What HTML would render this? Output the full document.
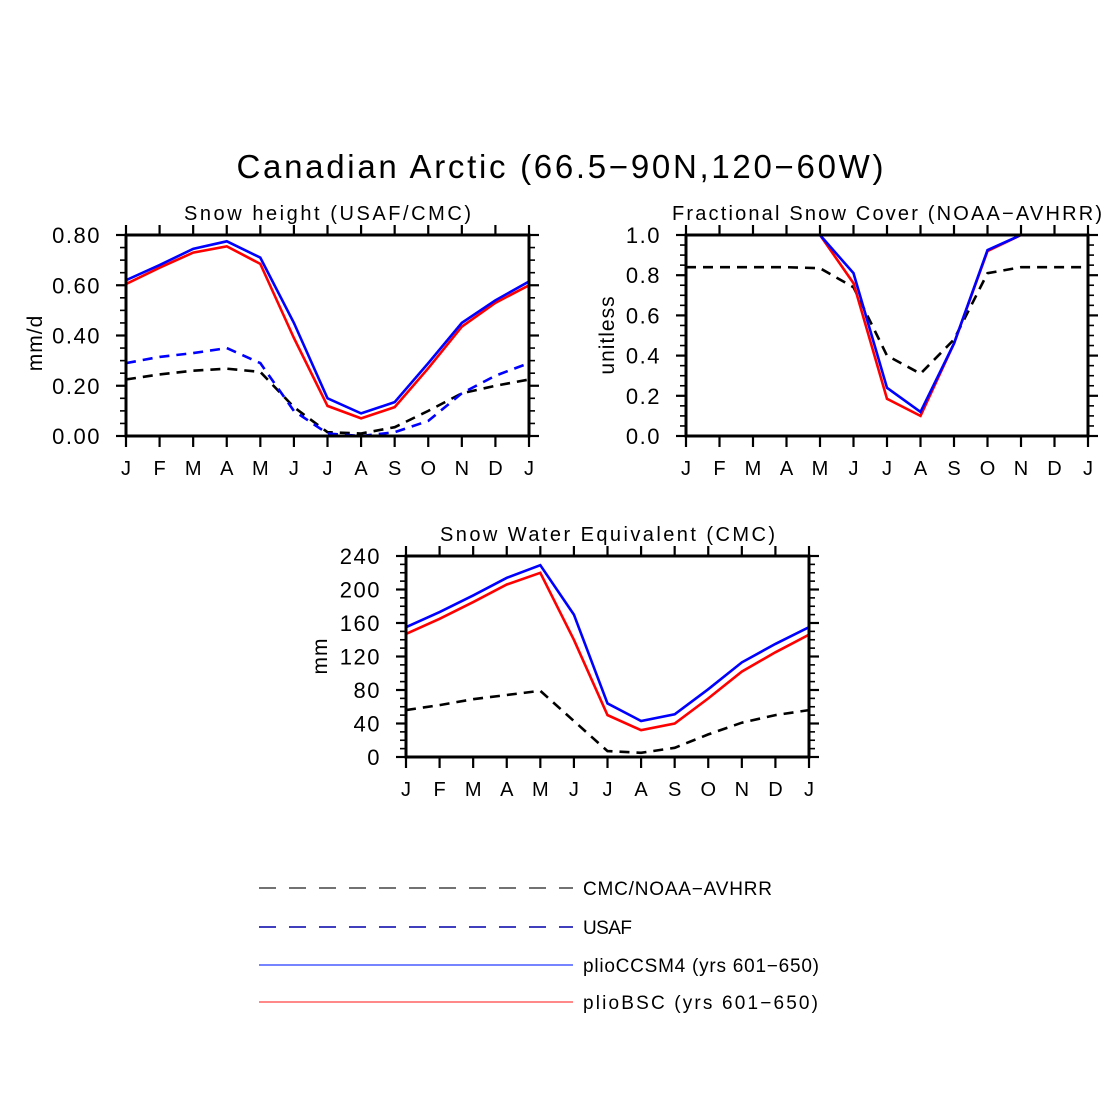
<!DOCTYPE html>
<html><head><meta charset="utf-8"><style>
html,body{margin:0;padding:0;background:#fff}
svg{display:block}
text{font-family:"Liberation Sans",sans-serif;fill:#000}
</style></head><body>
<svg id="fig" width="1120" height="1120" viewBox="0 0 1120 1120">
<text x="560" y="178" font-size="33" text-anchor="middle" textLength="647" lengthAdjust="spacing">Canadian Arctic (66.5−90N,120−60W)</text>
</svg>
<script>
const months = ["J","F","M","A","M","J","J","A","S","O","N","D","J"];
// Panel 1: Snow height
const p1CCSM4 = [0.62,0.68,0.745,0.775,0.71,0.45,0.15,0.09,0.135,0.29,0.45,0.54,0.615];
const p1BSC = [0.605,0.67,0.73,0.755,0.685,0.39,0.12,0.07,0.115,0.27,0.435,0.53,0.60];
const p1USAF = [0.29,0.315,0.33,0.35,0.29,0.10,0.01,0.0,0.015,0.06,0.17,0.24,0.29];
const p1CMC = [0.225,0.245,0.26,0.268,0.255,0.115,0.015,0.01,0.035,0.10,0.17,0.20,0.225];
const p1Ticks = ["0.00","0.20","0.40","0.60","0.80"];
// Panel 2: Fractional snow cover
const p2CCSM4 = [1,1,1,1,1,0.81,0.24,0.12,0.46,0.925,1,1,1];
const p2BSC = [1,1,1,1,1,0.76,0.185,0.10,0.46,0.92,1,1,1];
const p2NOAA = [0.84,0.84,0.84,0.84,0.835,0.74,0.40,0.31,0.48,0.81,0.84,0.84,0.84];
const p2Ticks = ["0.0","0.2","0.4","0.6","0.8","1.0"];
// Panel 3: SWE
const p3CCSM4 = [155,173,193,214,229,170,64,43,51,81,113,135,155];
const p3BSC = [147,165,185,206,220,140,50,32,40,70,102,125,146];
const p3CMC = [56,62,69,74,79,43,7,5,11,27,41,50,56];
const p3Ticks = ["0","40","80","120","160","200","240"];

const NS="http://www.w3.org/2000/svg";
const svg=document.getElementById('fig');
function mk(tag,attrs,parent){const e=document.createElementNS(NS,tag);for(const k in attrs)e.setAttribute(k,attrs[k]);(parent||svg).appendChild(e);return e;}

function panel(cfg){
  const g=mk('g',{});
  
  
  const {x0,x1,y0,y1,ymin,ymax}=cfg;
  const sx=i=>x0+(x1-x0)*i/12;
  const sy=v=>y1-(v-ymin)/(ymax-ymin)*(y1-y0);
  const cid='clip'+cfg.name;
  const cp=mk('clipPath',{id:cid},g);mk('rect',{x:x0,y:y0,width:x1-x0,height:y1-y0},cp);
  cfg.series.forEach(s=>{
    const pts=s.data.map((v,i)=>sx(i).toFixed(1)+','+sy(v).toFixed(1)).join(' ');
    const pl=mk('polyline',{points:pts,fill:'none',stroke:s.color,'stroke-width':2.6,'stroke-dasharray':s.dash||'none','clip-path':'url(#'+cid+')'},g);
    
    
  });
  const fr=mk('rect',{x:x0,y:y0,width:x1-x0,height:y1-y0,fill:'none',stroke:'#000','stroke-width':3},g);
  
  
  months.forEach((m,i)=>{
    const x=sx(i);
    mk('line',{x1:x,x2:x,y1:y1,y2:y1+11,stroke:'#000','stroke-width':2.2},g);
    mk('line',{x1:x,x2:x,y1:y0,y2:y0-10,stroke:'#000','stroke-width':2.2},g);
    const t=mk('text',{x:x,y:y1+39,'font-size':20,'text-anchor':'middle'},g);
    t.textContent=m;
    
    
  });
  const n=cfg.ticks.length-1;
  cfg.ticks.forEach((lab,i)=>{
    const y=y1-(y1-y0)*i/n;
    mk('line',{x1:x0-10,x2:x0,y1:y,y2:y,stroke:'#000','stroke-width':2.2},g);
    mk('line',{x1:x1,x2:x1+10,y1:y,y2:y,stroke:'#000','stroke-width':2.2},g);
    const t=mk('text',{x:x0-25,y:y+8,'font-size':22,'text-anchor':'end','letter-spacing':1.5},g);
    t.textContent=lab;
    
    
  });
  const nm=cfg.minor;
  for(let k=1;k<n*nm;k++){ if(k%nm===0)continue;
    const y=y1-(y1-y0)*k/(n*nm);
    mk('line',{x1:x0-6,x2:x0,y1:y,y2:y,stroke:'#000','stroke-width':1.6},g);
    mk('line',{x1:x1,x2:x1+6,y1:y,y2:y,stroke:'#000','stroke-width':1.6},g);
  }
  const st=mk('text',{x:cfg.stx,y:y0-15,'font-size':20,textLength:cfg.stw,lengthAdjust:'spacing'},g);
  st.textContent=cfg.title;
  
  
  const yl=mk('text',{x:0,y:0,'font-size':21,'text-anchor':'middle','letter-spacing':1,transform:`translate(${cfg.ylx},${cfg.yly}) rotate(-90)`},g);
  yl.textContent=cfg.ylabel;
  
  
}

panel({name:'snow-height-panel',x0:126,x1:529,y0:235,y1:436,ymin:0,ymax:0.8,ticks:p1Ticks,minor:4,
  title:'Snow height (USAF/CMC)',stx:184,stw:287,ylabel:'mm/d',ylx:42,yly:343,
  series:[{name:'cmc-line',data:p1CMC,color:'#000',dash:'10 7'},{name:'usaf-line',data:p1USAF,color:'#0000ff',dash:'10 7'},
          {name:'pliobsc-line',data:p1BSC,color:'#ff0000'},{name:'plioccsm4-line',data:p1CCSM4,color:'#0000ff'}]});
panel({name:'snow-cover-panel',x0:686,x1:1088,y0:235,y1:436,ymin:0,ymax:1,ticks:p2Ticks,minor:4,
  title:'Fractional Snow Cover (NOAA−AVHRR)',stx:672,stw:430,ylabel:'unitless',ylx:614,yly:335,
  series:[{name:'noaa-line',data:p2NOAA,color:'#000',dash:'10 7'},
          {name:'pliobsc-line',data:p2BSC,color:'#ff0000'},{name:'plioccsm4-line',data:p2CCSM4,color:'#0000ff'}]});
panel({name:'swe-panel',x0:406,x1:809,y0:556,y1:757,ymin:0,ymax:240,ticks:p3Ticks,minor:4,
  title:'Snow Water Equivalent (CMC)',stx:440,stw:335,ylabel:'mm',ylx:327,yly:656,
  series:[{name:'cmc-line',data:p3CMC,color:'#000',dash:'10 7'},
          {name:'pliobsc-line',data:p3BSC,color:'#ff0000'},{name:'plioccsm4-line',data:p3CCSM4,color:'#0000ff'}]});

const legItems=[["CMC/NOAA−AVHRR","#444","17 13",888,189],["USAF","#0000aa","17 13",927,49],["plioCCSM4 (yrs 601−650)","#4a5cff","none",965,236],["plioBSC (yrs 601−650)","#ff6060","none",1002,235]];
const lg=mk('g',{});


legItems.forEach(it=>{
  const e=mk('g',{},lg);
  
  
  mk('line',{x1:259,x2:573,y1:it[3],y2:it[3],stroke:it[1],'stroke-width':1.6,'stroke-dasharray':it[2]},e);
  const t=mk('text',{x:583,y:it[3]+7,'font-size':19,textLength:it[4],lengthAdjust:'spacing'},e);
  t.textContent=it[0];
});
</script>
</body></html>
